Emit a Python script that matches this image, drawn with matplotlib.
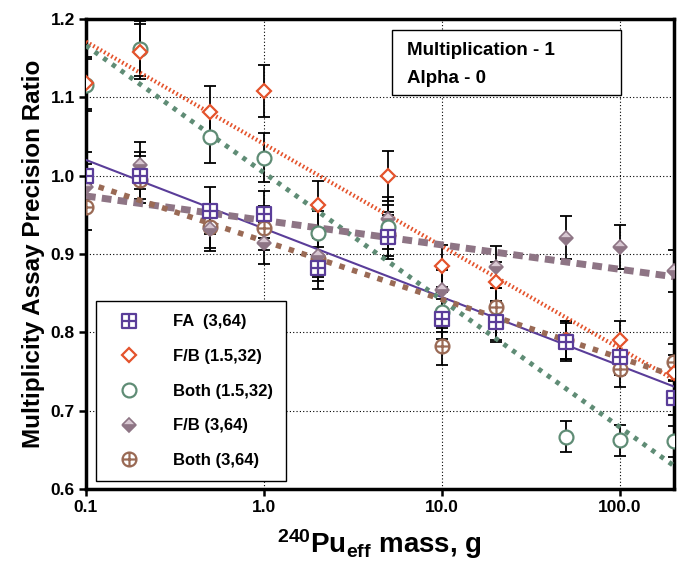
import numpy as np
import matplotlib
matplotlib.use('Agg')
import matplotlib.pyplot as plt
from matplotlib.path import Path
from matplotlib.patches import Rectangle

plt.rcParams['font.family'] = ['Liberation Sans', 'DejaVu Sans']
plt.rcParams['font.weight'] = 'bold'
plt.rcParams['mathtext.fontset'] = 'custom'
plt.rcParams['mathtext.bf'] = 'Liberation Sans:bold'
plt.rcParams['mathtext.rm'] = 'Liberation Sans:bold'
plt.rcParams['mathtext.default'] = 'bf'

# 240Pu effective mass, g
mass = [0.1, 0.2, 0.5, 1.0, 2.0, 5.0, 10.0, 20.0, 50.0, 100.0, 200.0]

fa_3_64 = [1.000, 1.000, 0.955, 0.951, 0.882, 0.922, 0.817, 0.813, 0.788, 0.768, 0.716]
fb_15_32 = [1.118, 1.158, 1.081, 1.108, 0.963, 1.000, 0.885, 0.864, 0.790, 0.790, 0.748]
both_15_32 = [1.116, 1.162, 1.049, 1.023, 0.927, 0.934, 0.826, 0.815, 0.667, 0.662, 0.661]
fb_3_64 = [0.985, 1.013, 0.932, 0.914, 0.897, 0.945, 0.854, 0.883, 0.921, 0.909, 0.878]
both_3_64 = [0.960, 0.995, 0.935, 0.933, 0.893, 0.925, 0.782, 0.832, 0.790, 0.753, 0.762]

fa_err = [0.030, 0.030, 0.030, 0.030, 0.027, 0.028, 0.025, 0.025, 0.024, 0.023, 0.022]
fb_15_err = [0.033, 0.035, 0.033, 0.033, 0.030, 0.032, 0.027, 0.026, 0.024, 0.024, 0.023]
both_15_err = [0.033, 0.035, 0.033, 0.031, 0.028, 0.028, 0.025, 0.025, 0.020, 0.020, 0.020]
fb_3_err = [0.030, 0.030, 0.028, 0.027, 0.027, 0.028, 0.026, 0.027, 0.028, 0.028, 0.027]
both_3_err = [0.029, 0.030, 0.028, 0.028, 0.027, 0.028, 0.024, 0.025, 0.024, 0.023, 0.023]

# straight-line fits (lin in log mass), values at the two ends
fit_x = [0.1, 200.0]
fa_fit = [1.020, 0.731]
fb_15_fit = [1.171, 0.740]
both_15_fit = [1.166, 0.630]
fb_3_fit = [0.974, 0.871]
both_3_fit = [0.991, 0.745]

labels = ['FA  (3,64)', 'F/B (1.5,32)', 'Both (1.5,32)', 'F/B (3,64)', 'Both (3,64)']
colors = ['#5a3d99', '#e4532c', '#5f8c75', '#8e7585', '#9a6a55']

# marker shapes: square with cross, circle with cross
box_plus = Path([(-1, -1), (1, -1), (1, 1), (-1, 1), (-1, -1), (0, -1), (0, 1), (-1, 0), (1, 0)],
                [Path.MOVETO, Path.LINETO, Path.LINETO, Path.LINETO, Path.CLOSEPOLY,
                 Path.MOVETO, Path.LINETO, Path.MOVETO, Path.LINETO])
circ = Path.unit_circle()
cross = Path([(0, -1), (0, 1), (-1, 0), (1, 0)], [Path.MOVETO, Path.LINETO, Path.MOVETO, Path.LINETO])
circle_plus = Path.make_compound_path(circ, cross)

fig = plt.figure(figsize=(6.84, 5.63), dpi=100)
ax = fig.add_axes([0.1257, 0.1314, 0.859, 0.835])

series = [fa_3_64, fb_15_32, both_15_32, fb_3_64, both_3_64]
errs = [fa_err, fb_15_err, both_15_err, fb_3_err, both_3_err]
fits = [fa_fit, fb_15_fit, both_15_fit, fb_3_fit, both_3_fit]

for y, e in zip(series, errs):
    ax.errorbar(mass, y, yerr=e, fmt='none', ecolor='black', elinewidth=1.3, capsize=4, capthick=1.3, zorder=2)

styles = [dict(ls='-', lw=1.5),
          dict(ls=(0, (0.4, 0.6)), lw=3.0),
          dict(ls=(0, (0.9, 1.3)), lw=3.5),
          dict(ls=(0, (1.4, 0.9)), lw=5.0),
          dict(ls=(0, (1.0, 1.4)), lw=4.0)]
for f, c, st in zip(fits, colors, styles):
    ax.plot(fit_x, f, color=c, zorder=3, **st)

mk = [dict(marker=box_plus, ms=10, mfc='white', mec=colors[0], mew=1.6),
      dict(marker='D', ms=7.5, mfc='white', mec=colors[1], mew=1.6),
      dict(marker='o', ms=10, mfc='white', mec=colors[2], mew=1.6),
      dict(marker='D', ms=7.5, mfc=colors[3], mec=colors[3], mew=1.2, fillstyle='bottom',
           markerfacecoloralt='#d8c8d2'),
      dict(marker=circle_plus, ms=10, mfc='white', mec=colors[4], mew=1.6)]
handles = []
order = [4, 3, 2, 1, 0]
for i in order:
    h, = ax.plot(mass, series[i], ls='none', label=labels[i], zorder=4 + (4 - i), **mk[i])
    handles.append(h)
handles = handles[::-1]

ax.set_xscale('log')
ax.set_xlim(0.1, 200)
ax.set_ylim(0.6, 1.2)
ax.set_xticks([0.1, 1, 10, 100])
ax.set_xticklabels(['0.1', '1.0', '10.0', '100.0'])
ax.xaxis.set_minor_locator(matplotlib.ticker.NullLocator())
ax.set_yticks(np.arange(0.6, 1.21, 0.1))
ax.set_yticklabels(['0.6', '0.7', '0.8', '0.9', '1.0', '1.1', '1.2'])
ax.tick_params(axis='both', which='major', labelsize=12.5, width=1.8, length=5, direction='out', pad=3)
ax.grid(True, which='major', color='black', ls=(0, (1, 2)), lw=0.8)
for s in ax.spines.values():
    s.set_linewidth(2.5)

ax.set_ylabel('Multiplicity Assay Precision Ratio', fontsize=17.5, fontweight='bold', labelpad=4)
ax.set_xlabel(r'$^{240}$Pu$_{eff}$ mass, g', fontsize=20, fontweight='bold', labelpad=9)

leg = ax.legend(handles=handles, labels=labels, loc='lower left', bbox_to_anchor=(0.017, 0.017),
                prop=dict(size=12, weight='bold'), frameon=True, fancybox=False, edgecolor='black',
                framealpha=1, borderpad=0.78, labelspacing=1.18, handletextpad=1.45, borderaxespad=0,
                handlelength=2.4)
leg.get_frame().set_linewidth(1.0)
leg.set_zorder(10)

ax.add_patch(Rectangle((0.520, 0.838), 0.390, 0.139, transform=ax.transAxes, fc='white', ec='black',
                       lw=1.0, zorder=10))
ax.text(0.546, 0.932, 'Multiplication - 1', transform=ax.transAxes, fontsize=13.5,
        fontweight='bold', va='center', ha='left', zorder=11)
ax.text(0.546, 0.874, 'Alpha - 0', transform=ax.transAxes, fontsize=13.5,
        fontweight='bold', va='center', ha='left', zorder=11)

fig.savefig('out.png', dpi=100)
